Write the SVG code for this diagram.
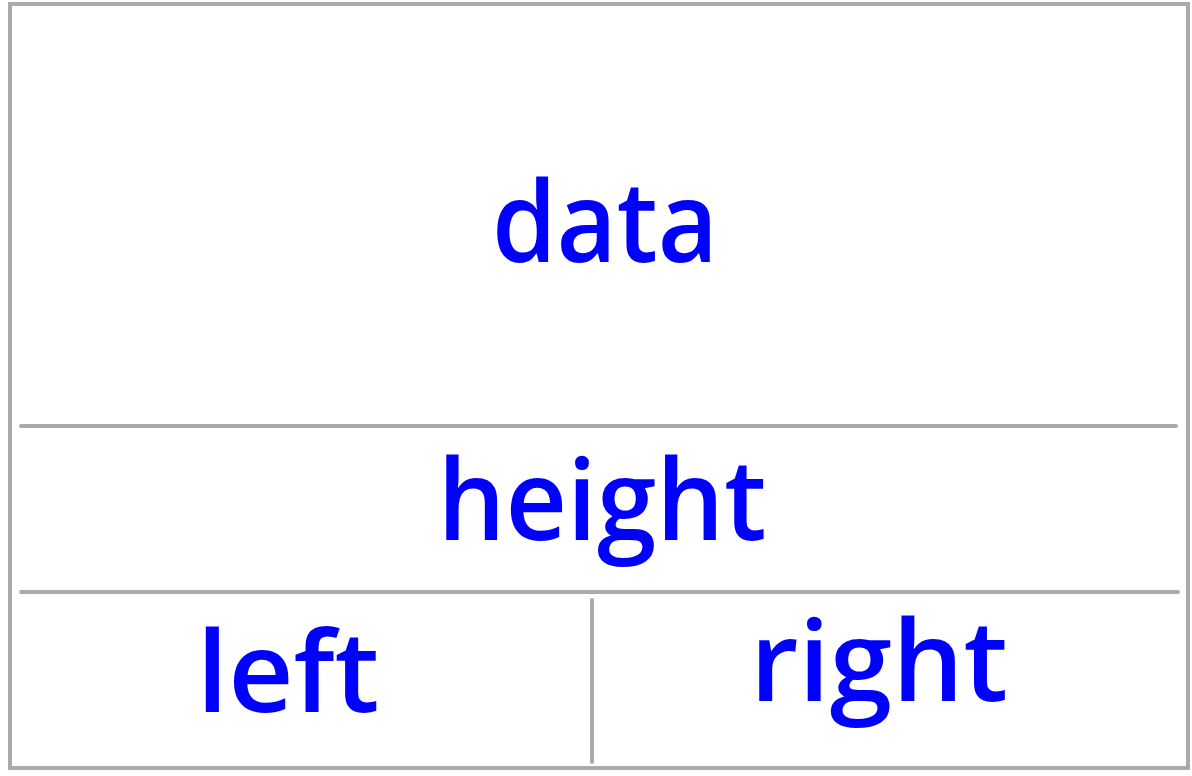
<svg xmlns="http://www.w3.org/2000/svg" width="1192" height="776" viewBox="0 0 1192 776">
<style>
.frame{fill:#ffffff;stroke:#aaaaaa;stroke-width:4}
.line{stroke:#aaaaaa;stroke-width:4;stroke-linecap:round;fill:none}
.lbl{fill:#0000ff;font-family:"Open Sans","DejaVu Sans",sans-serif;font-weight:600;font-size:112px;text-anchor:middle}
</style>
<rect width="1192" height="776" fill="#ffffff"/>
<g id="frame"><rect class="frame" x="10" y="4" width="1178" height="764"/></g>
<g id="connectors">
<line class="line" x1="21" y1="426" x2="1176" y2="426"/>
<line class="line" x1="21" y1="592" x2="1178" y2="592"/>
<line class="line" x1="592" y1="600" x2="592" y2="762"/>
</g>
<g id="data"><text class="lbl" x="605" y="262" textLength="226" lengthAdjust="spacingAndGlyphs">data</text></g>
<g id="height"><text class="lbl" x="602" y="540" textLength="329" lengthAdjust="spacingAndGlyphs">height</text></g>
<g id="left"><text class="lbl" x="288" y="712" textLength="183" lengthAdjust="spacingAndGlyphs">left</text></g>
<g id="right"><text class="lbl" x="879" y="701" textLength="258" lengthAdjust="spacingAndGlyphs">right</text></g>
</svg>
